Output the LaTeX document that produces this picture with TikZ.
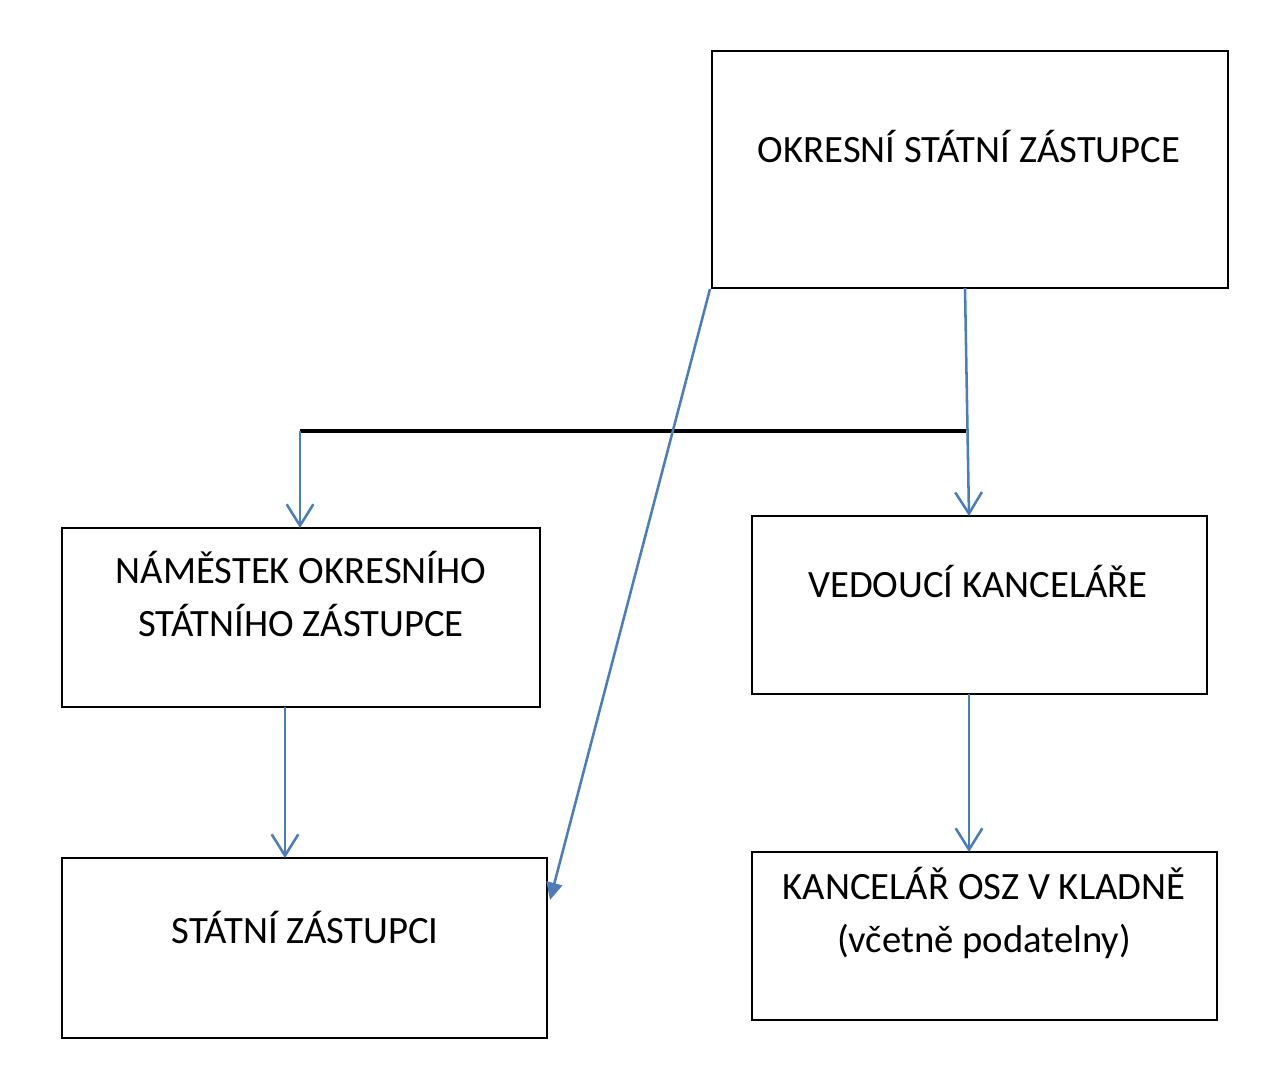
\documentclass[tikz,border=0pt]{standalone}
\usepackage{fontspec}
\setmainfont{Carlito}
\usetikzlibrary{arrows.meta,calc}
\definecolor{offblue}{HTML}{4A7EBB}
\tikzset{
  box/.style={draw=black,line width=1.8pt,inner sep=0pt,outer sep=0pt,rectangle},
  lbl/.style={font=\fontsize{29}{40}\selectfont,align=center,inner sep=0pt},
  conn/.style={draw=offblue,line width=1.9pt},
  vtip/.style={-{Straight Barb[length=16pt,width=20pt,line width=1.9pt]}},
  ttip/.style={-{Triangle[length=13pt,width=12pt]}}
}
\begin{document}
\begin{tikzpicture}[x=0.75pt,y=-0.75pt]
\useasboundingbox[fill=white] (0,0) rectangle (1285,1091);
\node[box,minimum width=387pt,minimum height=177.75pt] (top) at (970,169.5) {};
\node[box,minimum width=358.5pt,minimum height=134.25pt] (midL) at (301,617.5) {};
\node[box,minimum width=341.25pt,minimum height=133.5pt] (midR) at (979.5,605) {};
\node[box,minimum width=363.75pt,minimum height=135pt] (botL) at (304.5,948) {};
\node[box,minimum width=348.75pt,minimum height=126pt] (botR) at (984.5,936) {};
\node[lbl] (tTop) at (969,147) {OKRESNÍ STÁTNÍ ZÁSTUPCE};
\node[lbl] (tMidL) at (301,594) {NÁMĚSTEK OKRESNÍHO\\STÁTNÍHO ZÁSTUPCE};
\node[lbl] (tMidR) at (978,581) {VEDOUCÍ KANCELÁŘE};
\node[lbl] (tBotL) at (305,927) {STÁTNÍ ZÁSTUPCI};
\node[lbl] (tBotR) at (984,913) {KANCELÁŘ OSZ V KLADNĚ\\(včetně podatelny)};
\coordinate (j) at (300,431);
\coordinate (k) at (966,431);
\draw[line width=3.2pt] (j) -- (k);
\draw[conn,vtip] (j) -- (midL.north -| j);
\draw[conn,vtip] ($(top.south west)+(253,0)$) -- ($(midR.north west)+(217,0)$);
\draw[conn,vtip] ($(midL.south west)+(223,0)$) -- ($(botL.north west)+(223,0)$);
\draw[conn,vtip] ($(midR.south west)+(217,0)$) -- ($(botR.north west)+(217,0)$);
\draw[conn,ttip] ($(top.south west)+(-2,1)$) -- ($(botL.north east)+(3,42)$);
\end{tikzpicture}
\end{document}
